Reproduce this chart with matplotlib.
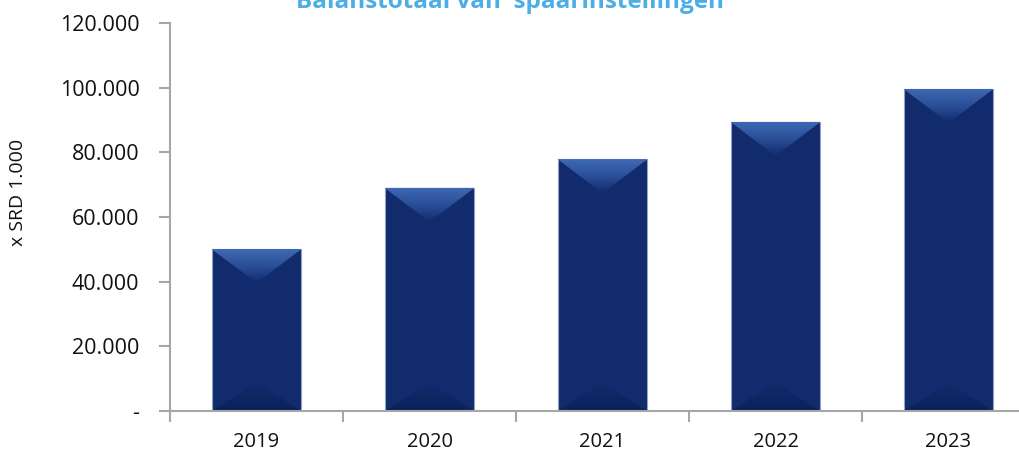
import matplotlib.pyplot as plt
from matplotlib.patches import Polygon
from matplotlib.colors import LinearSegmentedColormap
import numpy as np

years = ['2019', '2020', '2021', '2022', '2023']
balans = [50100, 69000, 77900, 89400, 99600]
yticks = [0, 20000, 40000, 60000, 80000, 100000, 120000]
ytick_labels = ['-', '20.000', '40.000', '60.000', '80.000', '100.000', '120.000']

plt.rcParams['font.family'] = ['Open Sans', 'DejaVu Sans']

fig = plt.figure(figsize=(10.19, 4.5), dpi=100)
ax = fig.add_axes([170 / 1019, 39 / 450, 865 / 1019, 388 / 450])

x = np.arange(len(years))
bw = 0.52
base = '#122b6d'
bars = ax.bar(x, balans, width=bw, color=base, edgecolor='#8fa3c8', linewidth=0.8, zorder=2)

# bevel look: gradient triangle on top, darker one at the bottom
px = 120000 / 388.0
top_cmap = LinearSegmentedColormap.from_list('top', [base, '#2a4f98', '#3f69b3'])
bot_cmap = LinearSegmentedColormap.from_list('bot', ['#0b1f56', base])
grad = np.linspace(0, 1, 64).reshape(-1, 1)
for b in bars:
    x0, w, h = b.get_x(), b.get_width(), b.get_height()
    xc = x0 + w / 2
    d = 34 * px
    tri = Polygon([(x0, h), (x0 + w, h), (xc, h - d)], closed=True,
                  facecolor='none', edgecolor='none', transform=ax.transData)
    ax.add_patch(tri)
    im = ax.imshow(grad, extent=[x0, x0 + w, h - d, h], origin='lower', aspect='auto',
                   cmap=top_cmap, zorder=3, interpolation='bilinear')
    im.set_clip_path(tri)
    db = 28 * px
    tri2 = Polygon([(x0, 0), (x0 + w, 0), (xc, db)], closed=True,
                   facecolor='none', edgecolor='none', transform=ax.transData)
    ax.add_patch(tri2)
    im2 = ax.imshow(grad, extent=[x0, x0 + w, 0, db], origin='lower', aspect='auto',
                    cmap=bot_cmap, zorder=3, interpolation='bilinear', alpha=0.8)
    im2.set_clip_path(tri2)

ax.set_xlim(-0.5, 4.5)
ax.set_ylim(0, 120000)

for s in ['top', 'right']:
    ax.spines[s].set_visible(False)
for s in ['left', 'bottom']:
    ax.spines[s].set_color('#a6a6a6')
    ax.spines[s].set_linewidth(1.5)
    ax.spines[s].set_zorder(4)

ax.set_yticks(yticks)
ax.set_yticklabels(ytick_labels)
ax.tick_params(axis='y', length=8, width=1.5, color='#a6a6a6', labelsize=15.5, pad=14, labelcolor='#111111')

ax.set_xticks(np.arange(-0.5, 5.0, 1.0))
ax.set_xticklabels([])
ax.tick_params(axis='x', which='major', length=8, width=1.5, color='#a6a6a6')
ax.set_xticks(x, minor=True)
ax.set_xticklabels(years, minor=True)
ax.tick_params(axis='x', which='minor', length=0, labelsize=14.5, pad=15, labelcolor='#111111')

ax.set_ylabel('x SRD 1.000', fontsize=14, color='#111111')
ax.yaxis.set_label_coords(-0.165, 0.564)

fig.text(510 / 1019, 1 - 8 / 450, 'Balanstotaal van  spaarinstellingen', ha='center', va='baseline',
         fontsize=17.5, fontweight='bold', color='#4daee6')

fig.savefig('out.png', dpi=100)
